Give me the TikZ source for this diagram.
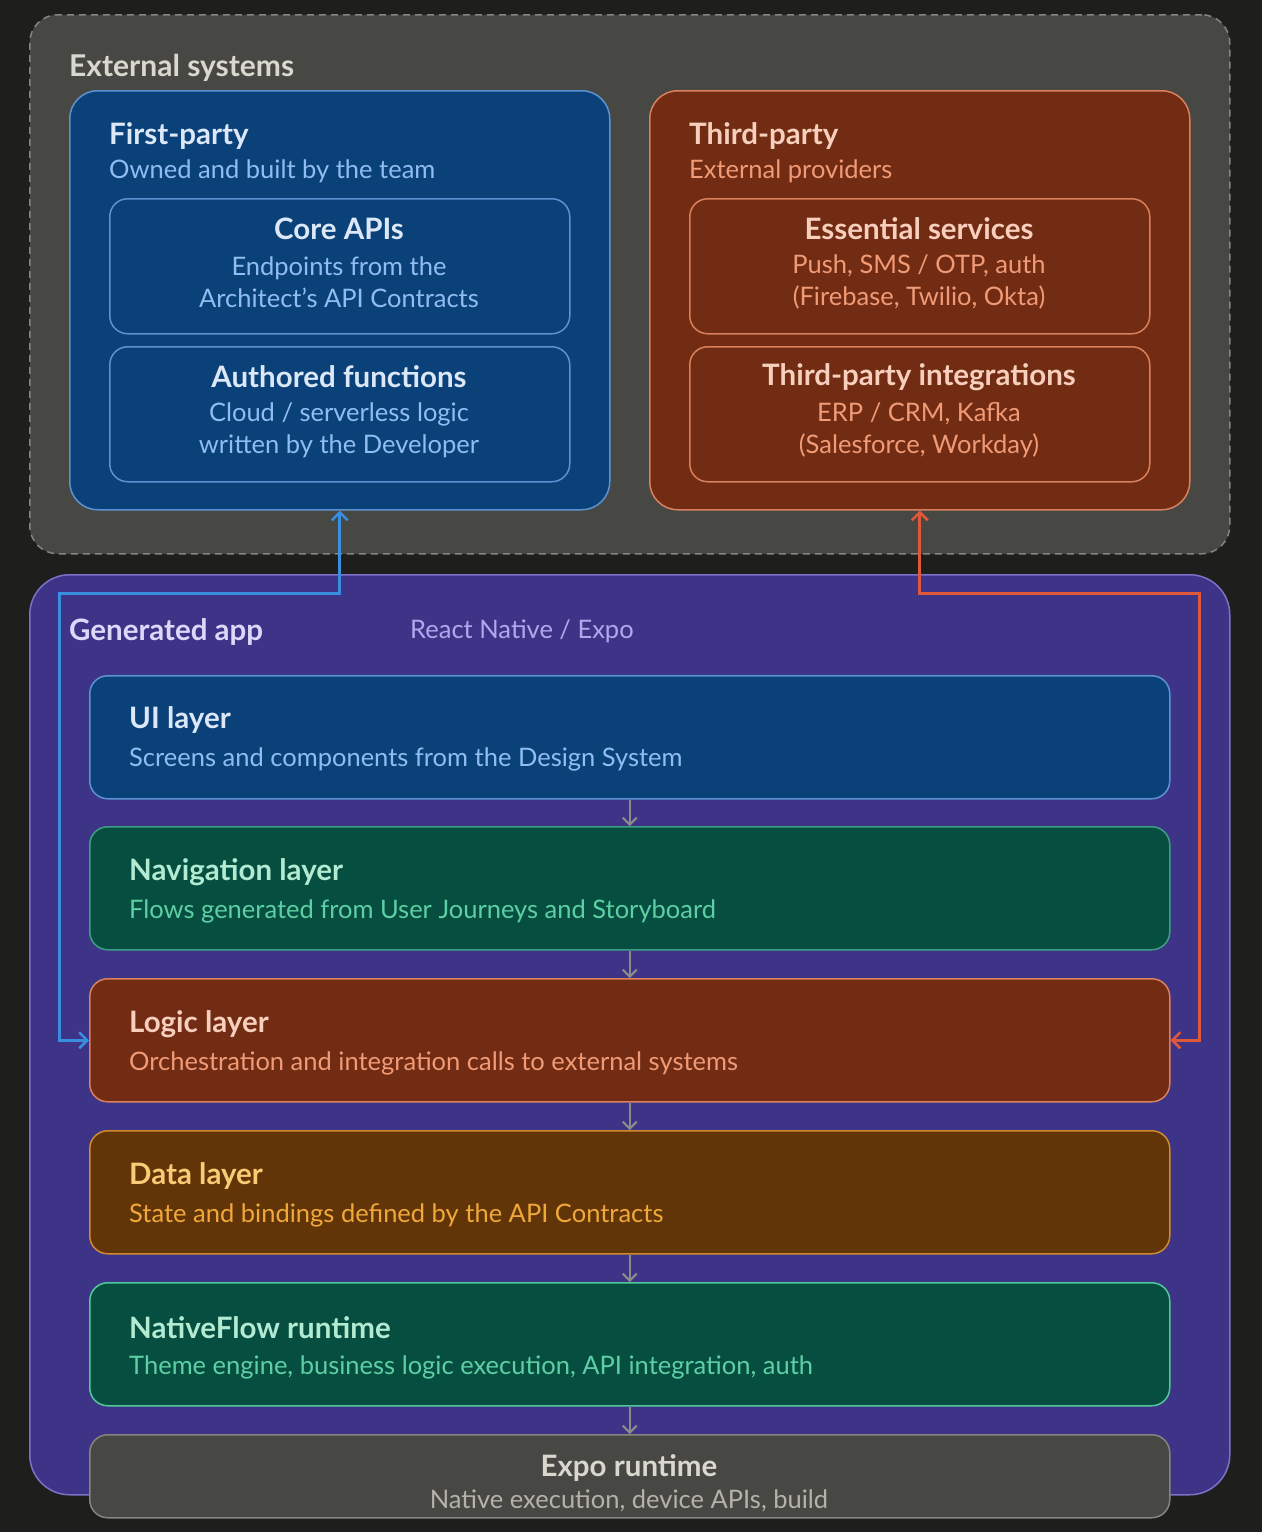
\documentclass[tikz,border=0pt]{standalone}
\usepackage{fontspec}
\setmainfont{Lato}
\usetikzlibrary{arrows.meta}
\definecolor{bg}{HTML}{1E1E1C}
\definecolor{extfill}{HTML}{474743}
\definecolor{extline}{HTML}{85847E}
\definecolor{exttext}{HTML}{DAD7CE}
\definecolor{bluefill}{HTML}{0B4179}
\definecolor{blueline}{HTML}{5B93D2}
\definecolor{bluetitle}{HTML}{DCE8F8}
\definecolor{bluesub}{HTML}{8FBDF0}
\definecolor{rustfill}{HTML}{722C14}
\definecolor{rustline}{HTML}{D9805C}
\definecolor{rusttitle}{HTML}{F8CFBD}
\definecolor{rustsub}{HTML}{F09A76}
\definecolor{appfill}{HTML}{3D3488}
\definecolor{appline}{HTML}{7C72C8}
\definecolor{apptitle}{HTML}{DCD8FA}
\definecolor{appsub}{HTML}{B0A8EC}
\definecolor{greenfill}{HTML}{064F40}
\definecolor{greenline}{HTML}{3E9E84}
\definecolor{greenlinebright}{HTML}{52C79C}
\definecolor{greentitle}{HTML}{B2EAD2}
\definecolor{greensub}{HTML}{5ECFA4}
\definecolor{datafill}{HTML}{623508}
\definecolor{dataline}{HTML}{CF8A2C}
\definecolor{datatitle}{HTML}{F8CB74}
\definecolor{datasub}{HTML}{F0A83A}
\definecolor{expotitle}{HTML}{DAD7CF}
\definecolor{exposub}{HTML}{B5B2AA}
\definecolor{flowgray}{HTML}{8C8B87}
\definecolor{conblue}{HTML}{3A8EE0}
\definecolor{conrust}{HTML}{E0583A}
\tikzset{
  panel/.style={draw, line width=1.5pt, rounded corners=28pt, anchor=north west, inner sep=0pt},
  innerbox/.style={draw, line width=1.5pt, rounded corners=18pt, anchor=north west, inner sep=0pt, minimum width=460pt, minimum height=135pt},
  layerbox/.style={draw, line width=1.5pt, rounded corners=18pt, anchor=north west, inner sep=0pt, minimum width=1080pt, minimum height=123pt},
  titletxt/.style={font=\fontsize{29.5}{34}\selectfont\bfseries, inner sep=0pt},
  subtxt/.style={font=\fontsize{25.5}{32}\selectfont, inner sep=0pt},
  flow/.style={draw=flowgray, line width=2pt, -{Straight Barb[length=7pt,width=14pt,line width=2pt]}},
  link/.style={line width=3pt, {Straight Barb[length=8pt,width=16pt,line width=2.5pt]}-{Straight Barb[length=8pt,width=16pt,line width=2.5pt]}},
}
\begin{document}
\begin{tikzpicture}[x=1pt,y=-1pt]
\fill[bg] (0,0) rectangle (1262,1532);
\useasboundingbox (0,0) rectangle (1262,1532);

% External systems
\node[panel, fill=extfill, draw=extline, dashed, dash pattern=on 7pt off 5pt, minimum width=1200pt, minimum height=539pt] (ext) at (29,14) {};
\node[titletxt, font=\fontsize{30}{34}\selectfont\bfseries, text=exttext, anchor=west] (extlbl) at (69,68) {External systems};

% First-party
\node[panel, fill=bluefill, draw=blueline, minimum width=540pt, minimum height=419pt] (fp) at (69,90) {};
\node[titletxt, text=bluetitle, anchor=west] (fpt) at (109,136) {First-party};
\node[subtxt, text=bluesub, anchor=west] (fps) at (109,171) {Owned and built by the team};
\node[innerbox, fill=bluefill, draw=blueline] (core) at (109,198) {};
\node[titletxt, text=bluetitle] (coret) at (339,229) {Core APIs};
\node[subtxt, text=bluesub, align=center] (cores) at (339,282) {Endpoints from the\\Architect’s API Contracts};
\node[innerbox, fill=bluefill, draw=blueline] (auth) at (109,346) {};
\node[titletxt, text=bluetitle] (autht) at (339,377) {Authored functions};
\node[subtxt, text=bluesub, align=center] (auths) at (339,430) {Cloud / serverless logic\\written by the Developer};

% Third-party
\node[panel, fill=rustfill, draw=rustline, minimum width=540pt, minimum height=419pt] (tp) at (649,90) {};
\node[titletxt, text=rusttitle, anchor=west] (tpt) at (689,136) {Third-party};
\node[subtxt, text=rustsub, anchor=west] (tps) at (689,171) {External providers};
\node[innerbox, fill=rustfill, draw=rustline] (ess) at (689,198) {};
\node[titletxt, text=rusttitle] (esst) at (919,229) {Essential services};
\node[subtxt, text=rustsub, align=center] (esss) at (919,282) {Push, SMS / OTP, auth\\(Firebase, Twilio, Okta)};
\node[innerbox, fill=rustfill, draw=rustline] (tpi) at (689,346) {};
\node[titletxt, text=rusttitle] (tpit) at (919,377) {Third-party integrations};
\node[subtxt, text=rustsub, align=center] (tpis) at (919,430) {ERP / CRM, Kafka\\(Salesforce, Workday)};

% Generated app
\node[panel, rounded corners=40pt, fill=appfill, draw=appline, minimum width=1200pt, minimum height=920pt] (app) at (29,574) {};
\node[titletxt, text=apptitle, anchor=west] (appt) at (69,632) {Generated app};
\node[subtxt, text=appsub, anchor=west] (apps) at (410,631) {React Native / Expo};

% Layers
\node[layerbox, fill=bluefill, draw=blueline] (ui) at (89,675) {};
\node[titletxt, text=bluetitle, anchor=west] (uit) at (129,720) {UI layer};
\node[subtxt, text=bluesub, anchor=west] (uis) at (129,759) {Screens and components from the Design System};

\node[layerbox, fill=greenfill, draw=greenline] (nav) at (89,826) {};
\node[titletxt, text=greentitle, anchor=west] (navt) at (129,872) {Navigation layer};
\node[subtxt, text=greensub, anchor=west] (navs) at (129,911) {Flows generated from User Journeys and Storyboard};

\node[layerbox, fill=rustfill, draw=rustline] (logic) at (89,978) {};
\node[titletxt, text=rusttitle, anchor=west] (logict) at (129,1024) {Logic layer};
\node[subtxt, text=rustsub, anchor=west] (logics) at (129,1063) {Orchestration and integration calls to external systems};

\node[layerbox, fill=datafill, draw=dataline] (data) at (89,1130) {};
\node[titletxt, text=datatitle, anchor=west] (datat) at (129,1176) {Data layer};
\node[subtxt, text=datasub, anchor=west] (datas) at (129,1215) {State and bindings defined by the API Contracts};

\node[layerbox, fill=greenfill, draw=greenlinebright] (nf) at (89,1282) {};
\node[titletxt, text=greentitle, anchor=west] (nft) at (129,1328) {NativeFlow runtime};
\node[subtxt, text=greensub, anchor=west] (nfs) at (129,1367) {Theme engine, business logic execution, API integration, auth};

\node[layerbox, fill=extfill, draw=extline, minimum height=83pt] (expo) at (89,1434) {};
\node[titletxt, text=expotitle] (expot) at (629,1468) {Expo runtime};
\node[subtxt, text=exposub] (expos) at (629,1501) {Native execution, device APIs, build};

% Flow arrows
\draw[flow] (ui.south) -- (nav.north);
\draw[flow] (nav.south) -- (logic.north);
\draw[flow] (logic.south) -- (data.north);
\draw[flow] (data.south) -- (nf.north);
\draw[flow] (nf.south) -- (expo.north);

% Connectors
\coordinate (bl) at (59,593);
\coordinate (br) at (1199,593);
\draw[link, draw=conblue] (fp.south) |- (bl) |- (logic.west);
\draw[link, draw=conrust] (tp.south) |- (br) |- (logic.east);
\end{tikzpicture}
\end{document}
